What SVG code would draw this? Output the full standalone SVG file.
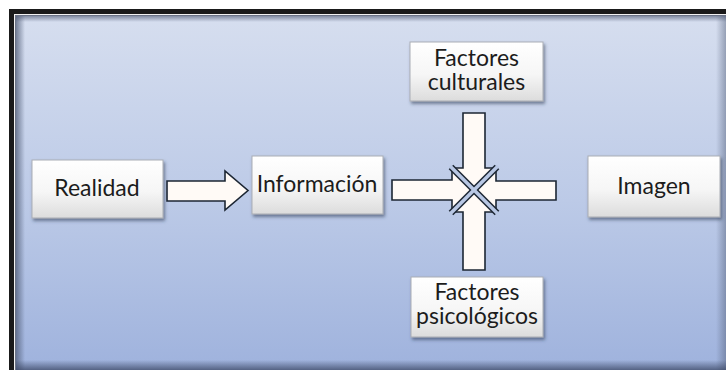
<svg xmlns="http://www.w3.org/2000/svg" width="726" height="370" viewBox="0 0 726 370">
  <defs>
    <linearGradient id="bg" x1="0" y1="0" x2="0" y2="1">
      <stop offset="0" stop-color="#d6deef"/>
      <stop offset="0.5" stop-color="#bccae7"/>
      <stop offset="1" stop-color="#9cb0dc"/>
    </linearGradient>
    <linearGradient id="edgeL" x1="0" y1="0" x2="1" y2="0">
      <stop offset="0" stop-color="#4a5670" stop-opacity="0.7"/>
      <stop offset="1" stop-color="#4a5670" stop-opacity="0"/>
    </linearGradient>
    <linearGradient id="edgeT" x1="0" y1="0" x2="0" y2="1">
      <stop offset="0" stop-color="#4a5670" stop-opacity="0.6"/>
      <stop offset="1" stop-color="#4a5670" stop-opacity="0"/>
    </linearGradient>
    <linearGradient id="edgeR" x1="1" y1="0" x2="0" y2="0">
      <stop offset="0" stop-color="#4a5670" stop-opacity="0.45"/>
      <stop offset="1" stop-color="#4a5670" stop-opacity="0"/>
    </linearGradient>
    <linearGradient id="edgeB" x1="0" y1="1" x2="0" y2="0">
      <stop offset="0" stop-color="#3c4866" stop-opacity="0.75"/>
      <stop offset="1" stop-color="#3c4866" stop-opacity="0"/>
    </linearGradient>
    <linearGradient id="box" x1="0" y1="0" x2="0" y2="1">
      <stop offset="0" stop-color="#ffffff"/>
      <stop offset="0.55" stop-color="#f6f6f6"/>
      <stop offset="1" stop-color="#dcdcdc"/>
    </linearGradient>
    <filter id="sh" x="-10%" y="-10%" width="130%" height="140%">
      <feDropShadow dx="1.5" dy="2.5" stdDeviation="1.6" flood-color="#2a3550" flood-opacity="0.55"/>
    </filter>
    <style>
      .box { fill: url(#box); stroke: #a9adb5; stroke-width: 1; filter: url(#sh); }
      .lbl { font-family: Lato, "Open Sans", sans-serif; font-size: 23px; fill: #1c1c1c; text-anchor: middle; }
      .arr { fill: #fffaf6; stroke: #1c2633; stroke-width: 1.6; stroke-linejoin: miter; }
      .xd { stroke: #1c2633; stroke-width: 6.5; }
      .xl { stroke: #b8c7e4; stroke-width: 3.5; }
    </style>
  </defs>

  <!-- frame -->
  <rect x="0" y="0" width="726" height="370" fill="#ffffff"/>
  <rect x="9" y="9" width="730" height="380" fill="#1a1a1a"/>
  <rect x="14" y="14" width="720" height="370" fill="#f2f2f2"/>
  <rect x="15" y="15" width="720" height="370" fill="#6b7386"/>
  <rect x="16" y="16" width="720" height="370" fill="url(#bg)"/>
  <rect x="16" y="16" width="9" height="370" fill="url(#edgeL)"/>
  <rect x="16" y="16" width="720" height="6" fill="url(#edgeT)"/>
  <rect x="716" y="16" width="10" height="370" fill="url(#edgeR)"/>
  <rect x="16" y="360" width="720" height="10" fill="url(#edgeB)"/>

  <!-- connectors -->
  <g id="connectors">
    <polygon class="arr" points="167,181 225,181 225,171 248,190.5 225,210 225,201 167,201"/>
    <polygon class="arr" points="463,113 485,113 485,168 496,168 474,190 452,168 463,168"/>
    <polygon class="arr" points="463,270 485,270 485,212 496,212 474,190 452,212 463,212"/>
    <polygon class="arr" points="392,180 452,180 452,168 474,190 452,212 452,200 392,200"/>
    <polygon class="arr" points="556,181 496,181 496,168 474,190 496,212 496,200 556,200"/>
    <line class="xd" x1="451" y1="167" x2="497" y2="213"/>
    <line class="xd" x1="497" y1="167" x2="451" y2="213"/>
    <line class="xl" x1="450" y1="166" x2="498" y2="214"/>
    <line class="xl" x1="498" y1="166" x2="450" y2="214"/>
  </g>

  <g id="realidad">
    <rect class="box" x="32" y="160" width="131" height="58"/>
    <text class="lbl" x="97" y="196">Realidad</text>
  </g>
  <g id="informacion">
    <rect class="box" x="252" y="156" width="131" height="58"/>
    <text class="lbl" x="317" y="192">Información</text>
  </g>
  <g id="factores-culturales">
    <rect class="box" x="410" y="42" width="133" height="59"/>
    <text class="lbl" x="476.5" y="66">Factores</text>
    <text class="lbl" x="476.5" y="90">culturales</text>
  </g>
  <g id="imagen">
    <rect class="box" x="588" y="156" width="132" height="61"/>
    <text class="lbl" x="654" y="194">Imagen</text>
  </g>
  <g id="factores-psicologicos">
    <rect class="box" x="411" y="277" width="132" height="60"/>
    <text class="lbl" x="477" y="300">Factores</text>
    <text class="lbl" x="477" y="324">psicológicos</text>
  </g>
</svg>
